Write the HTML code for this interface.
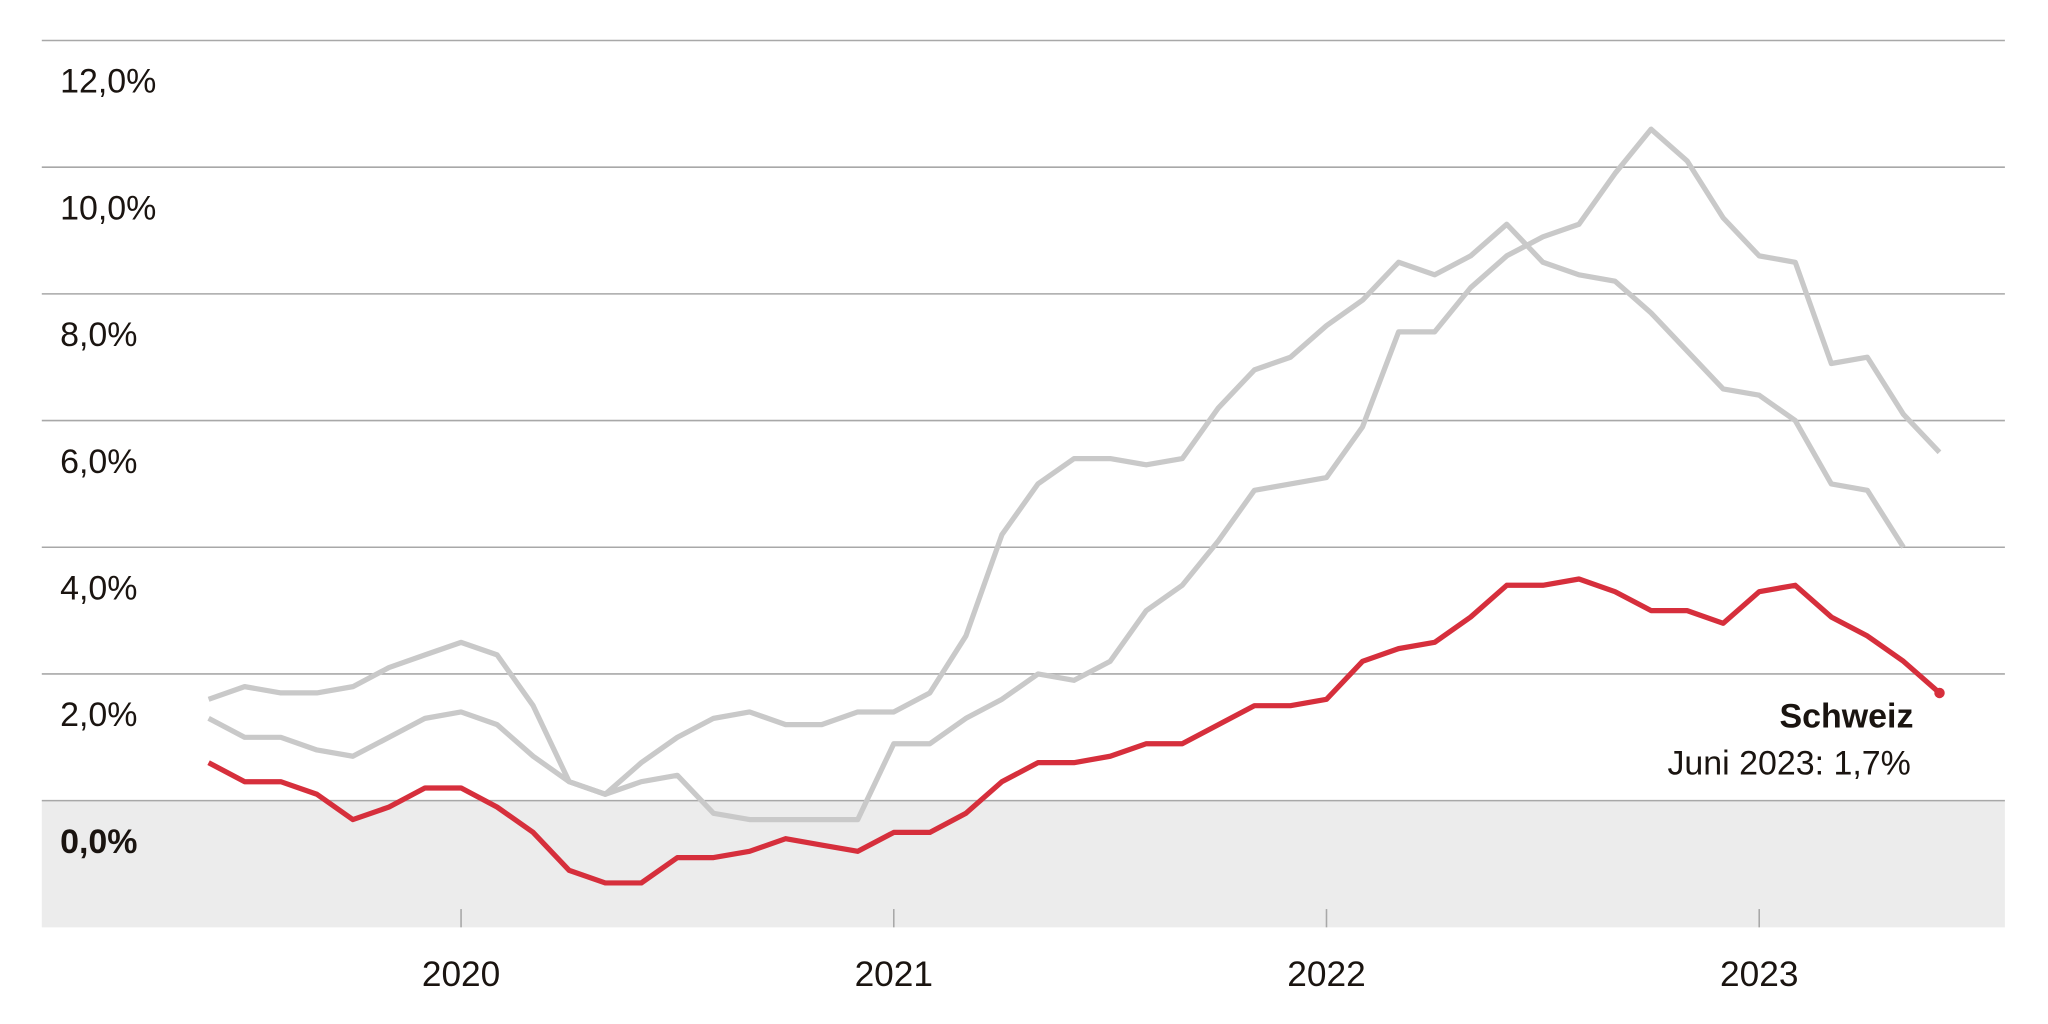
<!DOCTYPE html>
<html><head><meta charset="utf-8"><style>
html,body{margin:0;padding:0;background:#fff;}
svg{display:block;font-family:"Liberation Sans",Arial,sans-serif;}
</style></head><body>
<svg id="chart" width="2048" height="1024" viewBox="0 0 1568 784" xmlns="http://www.w3.org/2000/svg">
<g id="bg"></g><g id="grid"></g><g id="series"></g><g id="labels"></g>
</svg>
<script>
const yTicks = [0, 2, 4, 6, 8, 10, 12];
const yTickLabels = ["0,0%", "2,0%", "4,0%", "6,0%", "8,0%", "10,0%", "12,0%"];
const years = [2020, 2021, 2022, 2023];
const schweiz = [0.6,0.3,0.3,0.1,-0.3,-0.1,0.2,0.2,-0.1,-0.5,-1.1,-1.3,-1.3,-0.9,-0.9,-0.8,-0.6,-0.7,-0.8,-0.5,-0.5,-0.2,0.3,0.6,0.6,0.7,0.9,0.9,1.2,1.5,1.5,1.6,2.2,2.4,2.5,2.9,3.4,3.4,3.5,3.3,3.0,3.0,2.8,3.3,3.4,2.9,2.6,2.2,1.7];
const usa = [1.6,1.8,1.7,1.7,1.8,2.1,2.3,2.5,2.3,1.5,0.3,0.1,0.6,1.0,1.3,1.4,1.2,1.2,1.4,1.4,1.7,2.6,4.2,5.0,5.4,5.4,5.3,5.4,6.2,6.8,7.0,7.5,7.9,8.5,8.3,8.6,9.1,8.5,8.3,8.2,7.7,7.1,6.5,6.4,6.0,5.0,4.9,4.0];
const euro = [1.3,1.0,1.0,0.8,0.7,1.0,1.3,1.4,1.2,0.7,0.3,0.1,0.3,0.4,-0.2,-0.3,-0.3,-0.3,-0.3,0.9,0.9,1.3,1.6,2.0,1.9,2.2,3.0,3.4,4.1,4.9,5.0,5.1,5.9,7.4,7.4,8.1,8.6,8.9,9.1,9.9,10.6,10.1,9.2,8.6,8.5,6.9,7.0,6.1,5.5];
const startYear = 2019, startMonth = 6; // Juni 2019

const NS = "http://www.w3.org/2000/svg";
const X0 = 32, X1 = 1535;
const y = v => 613 - v * 48.5;
const xYear = yr => 353 + (yr - 2020) * 331.3;
const xIdx = i => xYear(startYear + (startMonth - 1 + i) / 12) - 331.3*0 ;
function mk(tag, attrs, parent){const e=document.createElementNS(NS,tag);for(const k in attrs)e.setAttribute(k,attrs[k]);parent.appendChild(e);return e;}

const bg = document.getElementById('bg'), grid = document.getElementById('grid'), series = document.getElementById('series'), labels = document.getElementById('labels');
const band = mk('rect',{x:X0,y:y(0),width:X1-X0,height:y(-2)-y(0),fill:'#ececec'},bg);



yTicks.forEach((t,i)=>{
  const l = mk('line',{x1:X0,x2:X1,y1:y(t),y2:y(t),stroke:'#a8a8a8','stroke-width':1.2},grid);
  
  
  const tx = mk('text',{x:X0+14,y:y(t)+40,'font-size':26,fill:'#1a1410','font-weight':t===0?'bold':'normal'},labels);
  tx.textContent = yTickLabels[i];
  
  
});
years.forEach(yr=>{
  const tk = mk('line',{x1:xYear(yr),x2:xYear(yr),y1:y(-2)-14,y2:y(-2),stroke:'#a8a8a8','stroke-width':1.2},grid);
  
  
  const tx = mk('text',{x:xYear(yr),y:755,'font-size':27,fill:'#1a1410','text-anchor':'middle'},labels);
  tx.textContent = yr;
  
  
});
function monthX(i){return xYear(startYear + (startMonth - 1 + i)/12 - (0)) ;}
function pts(arr){return arr.map((v,i)=>monthX(i).toFixed(1)+','+y(v).toFixed(1)).join(' ');}
const pe = mk('polyline',{points:pts(euro),fill:'none',stroke:'#c9c9c9','stroke-width':4,'stroke-linejoin':'round'},series);


const pu = mk('polyline',{points:pts(usa),fill:'none',stroke:'#c9c9c9','stroke-width':4,'stroke-linejoin':'round'},series);


const ps = mk('polyline',{points:pts(schweiz),fill:'none',stroke:'#d62f3c','stroke-width':4,'stroke-linejoin':'round'},series);


const last = schweiz.length-1;
const dot = mk('circle',{cx:monthX(last),cy:y(schweiz[last]),r:4,fill:'#d62f3c'},series);


const t1 = mk('text',{x:1465,y:557,'font-size':26,'font-weight':'bold',fill:'#1a1410','text-anchor':'end'},labels);
t1.textContent='Schweiz';


const t2 = mk('text',{x:1463,y:593,'font-size':26,fill:'#1a1410','text-anchor':'end'},labels);
t2.textContent='Juni 2023: ' + String(schweiz[last]).replace('.',',') + '%';


</script>
</body></html>
